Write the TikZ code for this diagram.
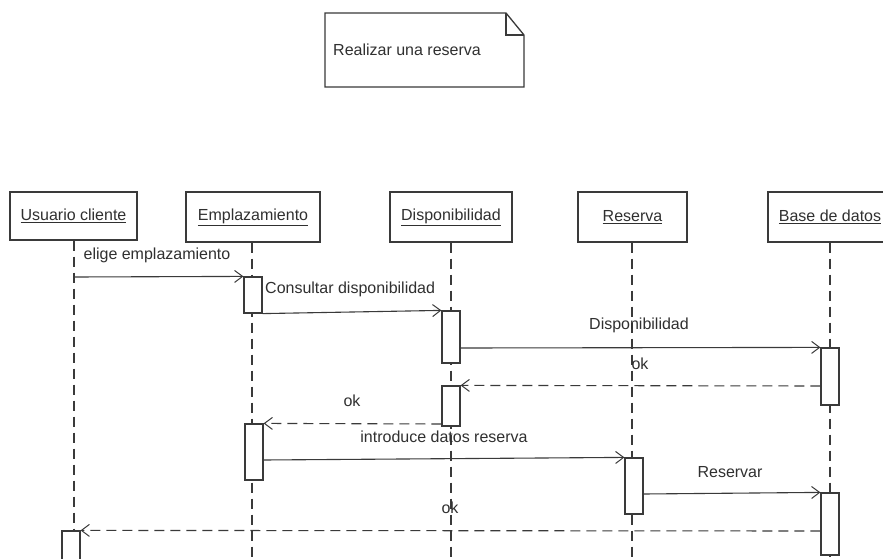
\documentclass[tikz,border=0pt]{standalone}
\usepackage{fontspec}
\setmainfont{Liberation Sans}
\usetikzlibrary{arrows.meta}
\definecolor{ln}{HTML}{3A3A3A}
\definecolor{tx}{HTML}{303030}
\tikzset{
  hdr/.style={draw=ln, line width=1.3pt, fill=white, minimum height=50pt, inner sep=0pt, text=tx, font=\fontsize{16}{19}\selectfont},
  act/.style={draw=ln, line width=1.2pt, fill=white, minimum width=18pt, inner sep=0pt},
  life/.style={draw=ln, line width=1.1pt, dash pattern=on 10pt off 6pt},
  msg/.style={draw=ln, line width=1.1pt, -{Straight Barb[length=8pt,width=12pt,line width=1pt]}},
  ret/.style={msg, dash pattern=on 10pt off 6pt},
  lbl/.style={text=tx, font=\fontsize{16}{19}\selectfont, inner sep=0pt}
}
\begin{document}
\begin{tikzpicture}[x=1pt,y=-1pt]
\clip (0,0) rectangle (883,559);
\fill[white] (0,0) rectangle (883,559);

% note
\draw[ln, line width=1.3pt] (325,13) -- (506,13) -- (524,35) -- (524,87) -- (325,87) -- cycle;
\draw[ln, line width=1.1pt] (506,13) -- (506,35) -- (524,35);
\node[lbl, anchor=west] (note) at (333,50) {Realizar una reserva};

% headers
\node[hdr, minimum width=127pt, minimum height=48pt] (uh) at (73.5,216) {\underline{Usuario cliente}};
\node[hdr, minimum width=134pt] (eh) at (253,217) {\underline{Emplazamiento}};
\node[hdr, minimum width=122pt] (dh) at (451,217) {\underline{Disponibilidad}};
\node[hdr, minimum width=109pt] (rh) at (632.5,217) {\underline{Reserva}};
\node[hdr, minimum width=124pt] (bh) at (830,217) {\underline{Base de datos}};

% lifeline ends
\coordinate (ue) at (74,559);
\coordinate (ee) at (252,559);
\coordinate (de) at (451,559);
\coordinate (re) at (632,559);
\coordinate (be) at (830,559);
\draw[life] (uh.south -| ue) -- (ue);
\draw[life] (eh.south -| ee) -- (ee);
\draw[life] (dh.south -| de) -- (de);
\draw[life] (rh.south -| re) -- (re);
\draw[life] (bh.south -| be) -- (be);

% activations
\node[act, minimum height=36pt] (ea1) at (253,295) {};
\node[act, minimum height=52pt] (da1) at (451,337) {};
\node[act, minimum height=57pt] (ba1) at (830,376.5) {};
\node[act, minimum height=40pt] (da2) at (451,406) {};
\node[act, minimum height=56pt] (ea2) at (254,452) {};
\node[act, minimum height=56pt] (ra1) at (634,486) {};
\node[act, minimum height=62pt] (ba2) at (830,524) {};
\node[act, minimum height=50pt] (ua1) at (71,556) {};

% messages
\coordinate (s1) at (74,277);
\draw[msg] (s1) -- (ea1.north west);
\node[lbl] (l1) at (157,255) {elige emplazamiento};

\draw[msg] (ea1.south east) -- (da1.north west);
\node[lbl, anchor=west] (l2) at (265,289) {Consultar disponibilidad};

\draw[msg] (da1.east |- 0,348) -- (ba1.north west);
\node[lbl] (l3) at (639,325) {Disponibilidad};

\draw[ret] (ba1.west |- 0,386) -- (da2.north east);
\node[lbl] (l4) at (640,364) {ok};

\draw[ret] (da2.west |- 0,424) -- (ea2.north east);
\node[lbl] (l5) at (352,401) {ok};

\draw[msg] (ea2.east |- 0,460) -- (ra1.north west);
\node[lbl] (l6) at (444,437) {introduce datos reserva};

\draw[msg] (ra1.east |- 0,494) -- (ba2.north west);
\node[lbl] (l7) at (730,472) {Reservar};

\draw[ret] (ba2.west |- 0,531) -- (ua1.north east);
\node[lbl] (l8) at (450,508) {ok};
\end{tikzpicture}
\end{document}
